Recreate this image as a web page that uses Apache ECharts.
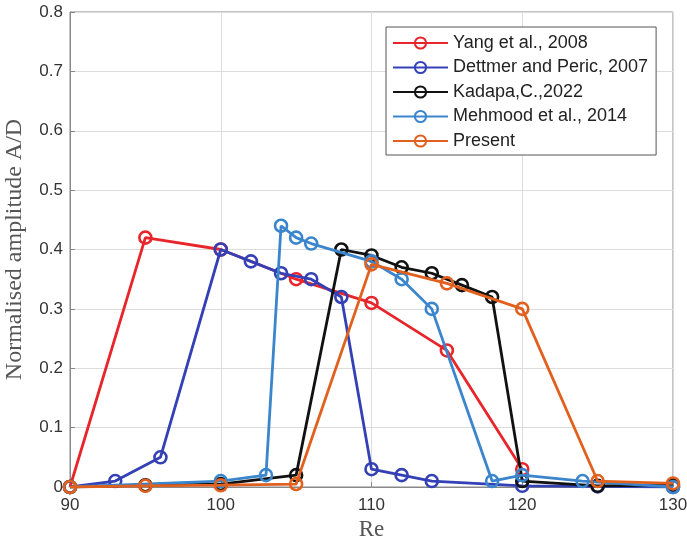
<!DOCTYPE html>
<html>
<head>
<meta charset="utf-8">
<script src="https://cdn.jsdelivr.net/npm/echarts@6/dist/echarts.min.js"></script>
<style>
  html, body { margin: 0; padding: 0; background: #fff; }
  #main { width: 687px; height: 545px; }
</style>
</head>
<body>
<div id="main"></div>
<script>
// series names
var names = ['Yang et al., 2008', 'Dettmer and Peric, 2007', 'Kadapa,C.,2022', 'Mehmood et al., 2014', 'Present'];
var colors = ['#e8252b', '#3440b5', '#111111', '#3a85cc', '#e2601e'];

// Re values and normalised amplitude A/D for each curve
var yangRe = [90, 95, 100, 105, 110, 115, 120];
var yangAD = [0, 0.42, 0.40, 0.35, 0.31, 0.23, 0.03];

var dettmerRe = [90, 93, 96, 100, 102, 104, 106, 108, 110, 112, 114, 120, 125, 130];
var dettmerAD = [0, 0.01, 0.05, 0.40, 0.38, 0.36, 0.35, 0.32, 0.03, 0.02, 0.01, 0.002, 0.001, 0];

var kadapaRe = [90, 95, 100, 105, 108, 110, 112, 114, 116, 118, 120, 125, 130];
var kadapaAD = [0, 0.003, 0.005, 0.02, 0.40, 0.39, 0.37, 0.36, 0.34, 0.32, 0.01, 0.002, 0.003];

var mehmoodRe = [90, 100, 103, 104, 105, 106, 110, 112, 114, 118, 120, 124, 130];
var mehmoodAD = [0, 0.01, 0.02, 0.44, 0.42, 0.41, 0.38, 0.35, 0.30, 0.01, 0.02, 0.01, 0];

var presentRe = [90, 95, 100, 105, 110, 115, 120, 125, 130];
var presentAD = [0, 0.002, 0.003, 0.005, 0.375, 0.343, 0.30, 0.01, 0.006];

var xs = [yangRe, dettmerRe, kadapaRe, mehmoodRe, presentRe];
var ys = [yangAD, dettmerAD, kadapaAD, mehmoodAD, presentAD];

var pair = function (a, b) {
    return a.map(function (v, i) { return [v, b[i]]; });
};

var series = names.map(function (n, k) {
    return {
        name: n,
        type: 'line',
        data: pair(xs[k], ys[k]),
        symbol: 'circle',
        symbolSize: 12,
        lineStyle: { color: colors[k], width: 2.8 },
        itemStyle: { color: 'transparent', borderColor: colors[k], borderWidth: 2.6 },
        emphasis: { disabled: true },
        z: 2 + k
    };
});

var chart = echarts.init(document.getElementById('main'), null, { renderer: 'canvas' });
chart.setOption({
    animation: false,
    backgroundColor: '#fff',
    grid: {
        left: 70, right: 14, top: 12, bottom: 58,
        outerBoundsMode: 'none', containLabel: false,
        show: true, borderColor: '#888', borderWidth: 1
    },
    legend: {
        orient: 'vertical',
        left: 386, top: 27,
        padding: [7, 8, 5, 6],
        itemWidth: 55, itemHeight: 14, itemGap: 6.5,
        backgroundColor: '#fff',
        borderColor: '#555', borderWidth: 1,
        textStyle: { fontFamily: 'Liberation Sans', fontSize: 18, color: '#222' },
        data: names
    },
    xAxis: {
        type: 'value', min: 90, max: 130, interval: 10,
        name: 'Re', nameLocation: 'middle', nameGap: 27,
        nameTextStyle: { fontFamily: 'Liberation Serif', fontSize: 23, color: '#555' },
        axisLine: { show: true, onZero: false, lineStyle: { color: '#888' } },
        axisTick: { show: true, inside: true, length: 5, lineStyle: { color: '#888' } },
        axisLabel: { fontFamily: 'Liberation Sans', fontSize: 17, color: '#333', margin: 10 },
        splitLine: { show: true, lineStyle: { color: '#dcdcdc', width: 1 } }
    },
    yAxis: {
        type: 'value', min: 0, max: 0.8, interval: 0.1,
        name: 'Normalised amplitude A/D', nameLocation: 'middle', nameGap: 43,
        nameTextStyle: { fontFamily: 'Liberation Serif', fontSize: 24, color: '#555' },
        axisLine: { show: true, lineStyle: { color: '#888' } },
        axisTick: { show: true, inside: true, length: 5, lineStyle: { color: '#888' } },
        axisLabel: {
            fontFamily: 'Liberation Sans', fontSize: 17, color: '#333', margin: 7,
            formatter: function (v) { return v === 0 ? '0' : v.toFixed(1); }
        },
        splitLine: { show: true, lineStyle: { color: '#dcdcdc', width: 1 } }
    },
    series: series
});
</script>
</body>
</html>
